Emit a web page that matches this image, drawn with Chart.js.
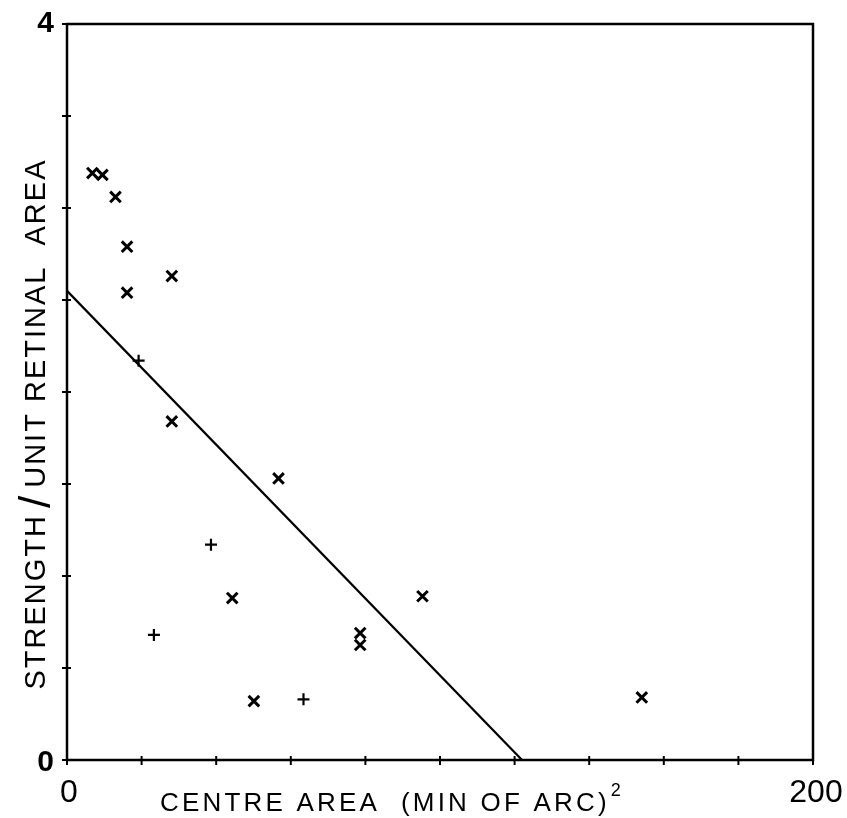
<!DOCTYPE html>
<html>
<head>
<meta charset="utf-8">
<script src="https://cdn.jsdelivr.net/npm/chart.js@4.4.1/dist/chart.umd.min.js"></script>
<style>
  html, body { margin: 0; padding: 0; background: #fff; }
  #wrap { width: 847px; height: 818px; }
</style>
</head>
<body>
<div id="wrap"><canvas id="chart" width="847" height="818"></canvas></div>
<script>
// crosses (x)
const crossX = [6.8, 9.5, 13.0, 16.1, 28.1, 16.1, 28.1, 56.7, 44.3, 50.1, 78.6, 78.6, 95.3, 154.1];
const crossY = [3.19, 3.18, 3.06, 2.79, 2.63, 2.54, 1.84, 1.53, 0.88, 0.32, 0.69, 0.625, 0.89, 0.34];
// plus markers (+)
const plusX = [19.2, 38.6, 23.3, 63.4];
const plusY = [2.17, 1.17, 0.68, 0.33];
// fitted line end points
const fitX = [0, 122];
const fitY = [2.55, 0];

const xTicks = [0, 20, 40, 60, 80, 100, 120, 140, 160, 180, 200];
const yTicks = [0, 0.5, 1, 1.5, 2, 2.5, 3, 3.5, 4];
const xLabels = [0, 200];
const yLabels = [0, 4];

const toPts = (xs, ys) => xs.map((x, i) => ({ x, y: ys[i] }));
const FONT = "'Liberation Sans', Arial, sans-serif";

// box, tick marks and the text round the axes
const framePlugin = {
  id: "frame",
  afterDraw(chart) {
    const { ctx, chartArea: a, scales } = chart;
    const xs = scales.x, ys = scales.y;
    ctx.save();
    ctx.strokeStyle = "#000";
    ctx.lineWidth = 2.5;
    ctx.strokeRect(a.left, a.top, a.right - a.left, a.bottom - a.top);

    ctx.lineWidth = 2;
    xTicks.forEach((v) => {
      const px = xs.getPixelForValue(v);
      ctx.beginPath();
      ctx.moveTo(px, a.bottom - 4);
      ctx.lineTo(px, a.bottom + 5);
      ctx.stroke();
    });
    yTicks.forEach((v) => {
      const py = ys.getPixelForValue(v);
      ctx.beginPath();
      ctx.moveTo(a.left - 5, py);
      ctx.lineTo(a.left + 4, py);
      ctx.stroke();
    });

    ctx.fillStyle = "#000";
    ctx.font = "bold 30px " + FONT;
    ctx.textAlign = "right";
    ctx.textBaseline = "middle";
    yLabels.forEach((v) => {
      ctx.fillText(String(v), a.left - 13, ys.getPixelForValue(v) + (v ? 0 : 3));
    });

    ctx.font = "32px " + FONT;
    ctx.textAlign = "center";
    ctx.textBaseline = "top";
    xLabels.forEach((v) => {
      ctx.fillText(String(v), xs.getPixelForValue(v) + (v ? 3 : 2), a.bottom + 17);
    });

    // x title with superscript
    ctx.font = "26px " + FONT;
    ctx.letterSpacing = "3.2px";
    ctx.textAlign = "left";
    ctx.textBaseline = "alphabetic";
    const xt = "CENTRE AREA  (MIN OF ARC)";
    ctx.fillText(xt, 160, 811);
    const w = ctx.measureText(xt).width;
    ctx.font = "18px " + FONT;
    ctx.letterSpacing = "0px";
    ctx.fillText("2", 160 + w + 1, 796);

    // y title, rotated
    ctx.translate(45, 424);
    ctx.rotate(-Math.PI / 2);
    ctx.textBaseline = "alphabetic";
    ctx.font = "29px " + FONT;
    ctx.letterSpacing = "2px";
    const p1 = "STRENGTH", p3 = "UNIT RETINAL  AREA";
    const w1 = ctx.measureText(p1).width;
    const w3 = ctx.measureText(p3).width;
    ctx.font = "44px " + FONT;
    ctx.letterSpacing = "0px";
    const w2 = ctx.measureText("/").width;
    const total = w1 + w2 + w3 + 14;
    let x0 = -total / 2;
    ctx.font = "29px " + FONT;
    ctx.letterSpacing = "2px";
    ctx.fillText(p1, x0, 0);
    x0 += w1 + 6;
    ctx.font = "44px " + FONT;
    ctx.letterSpacing = "0px";
    ctx.fillText("/", x0, 5);
    x0 += w2 + 8;
    ctx.font = "29px " + FONT;
    ctx.letterSpacing = "2px";
    ctx.fillText(p3, x0, 0);
    ctx.restore();
  },
};

new Chart(document.getElementById("chart"), {
  type: "scatter",
  data: {
    datasets: [
      {
        label: "x",
        data: toPts(crossX, crossY),
        pointStyle: "crossRot",
        pointRadius: 7.5,
        borderColor: "#000",
        borderWidth: 3,
      },
      {
        label: "+",
        data: toPts(plusX, plusY),
        pointStyle: "cross",
        pointRadius: 6,
        borderColor: "#000",
        borderWidth: 2.2,
      },
      {
        type: "line",
        label: "fit",
        data: toPts(fitX, fitY),
        borderColor: "#000",
        borderWidth: 2.2,
        pointRadius: 0,
        showLine: true,
        fill: false,
      },
    ],
  },
  options: {
    responsive: false,
    animation: false,
    layout: { padding: { left: 67, right: 34, top: 24, bottom: 58 } },
    plugins: { legend: { display: false }, tooltip: { enabled: false } },
    scales: {
      x: { type: "linear", min: 0, max: 200, display: false },
      y: { type: "linear", min: 0, max: 4, display: false },
    },
  },
  plugins: [framePlugin],
});
</script>
</body>
</html>
